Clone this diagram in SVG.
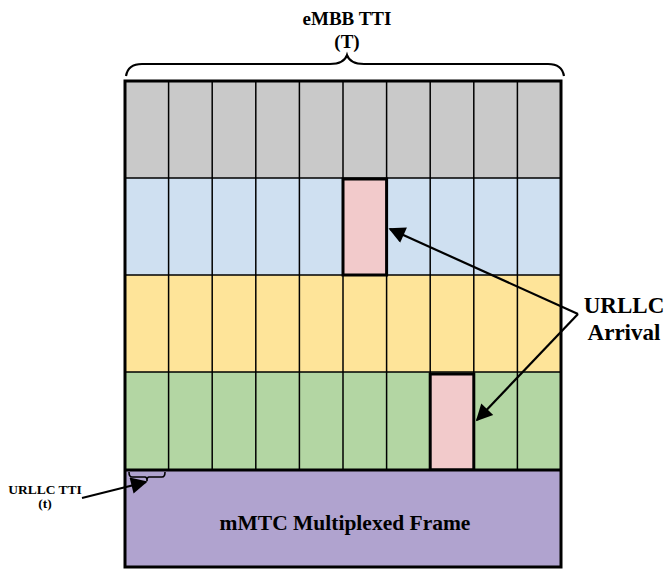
<svg xmlns="http://www.w3.org/2000/svg" width="667" height="570" viewBox="0 0 667 570">
<style>
.t{font-family:"Liberation Serif","Times New Roman",serif;font-weight:bold;fill:#000;text-anchor:middle}
.g{stroke:#000;stroke-width:1.5;fill:none}
.b{stroke:#000;stroke-width:3;fill:none}
.c{stroke:#000;stroke-width:2.2;fill:none}
</style>
<defs>
<marker id="ah" viewBox="0 0 10 10" refX="9" refY="5" markerWidth="8" markerHeight="7.5" orient="auto" markerUnits="strokeWidth">
<path d="M0,0 L10,5 L0,10 Z" fill="#000"/>
</marker>
</defs>
<rect width="667" height="570" fill="#fff"/>
<g id="rows">
<rect x="125" y="81" width="436" height="97" fill="#c9c9c9"/>
<rect x="125" y="178" width="436" height="97" fill="#cfe0f1"/>
<rect x="125" y="275" width="436" height="97" fill="#fee499"/>
<rect x="125" y="372" width="436" height="98" fill="#b3d6a3"/>
</g>
<g id="grid">
<path class="g" d="M168.6,81V470M212.2,81V470M255.8,81V470M299.4,81V470M343,81V470M386.6,81V470M430.2,81V470M473.8,81V470M517.4,81V470M125,178H561M125,275H561M125,372H561"/>
</g>
<g id="urllc1"><rect x="343" y="179" width="43.6" height="96" class="b" style="fill:#f2cacb"/></g>
<g id="urllc2"><rect x="430.2" y="374" width="43.6" height="96" class="b" style="fill:#f2cacb"/></g>
<g id="mmtc">
<rect x="125" y="470" width="436" height="97" fill="#b0a3cf"/>
<text class="t" x="345" y="530" font-size="21.5">mMTC Multiplexed Frame</text>
</g>
<g id="frame">
<rect x="125" y="81" width="436" height="486" class="b"/>
<path class="b" d="M125,470H561"/>
</g>
<g id="brace-top">
<path class="c" d="M126,76 Q128,64 142,64 H330 Q344,64 347,55 Q350,64 364,64 H548 Q562,64 564,76"/>
<text class="t" x="347" y="25" font-size="19">eMBB TTI</text>
<text class="t" x="347" y="48" font-size="19">(T)</text>
</g>
<g id="brace-small">
<path stroke="#000" stroke-width="1.6" fill="none" d="M129,472 Q129,477 132,477 H145 Q147,477 147,481 Q147,477 149,477 H162 Q165,477 165,472"/>
</g>
<g id="labels">
<text class="t" x="624" y="313" font-size="23">URLLC</text>
<text class="t" x="624" y="340" font-size="23">Arrival</text>
<text class="t" x="45" y="494" font-size="13.5">URLLC TTI</text>
<text class="t" x="45" y="508" font-size="13.5">(t)</text>
</g>
<g id="connectors">
<path class="c" d="M578,314 L390,229" marker-end="url(#ah)"/>
<path class="c" d="M578,314 L477,420" marker-end="url(#ah)"/>
<path class="c" d="M82,498 L146,482" marker-end="url(#ah)"/>
</g>
</svg>
